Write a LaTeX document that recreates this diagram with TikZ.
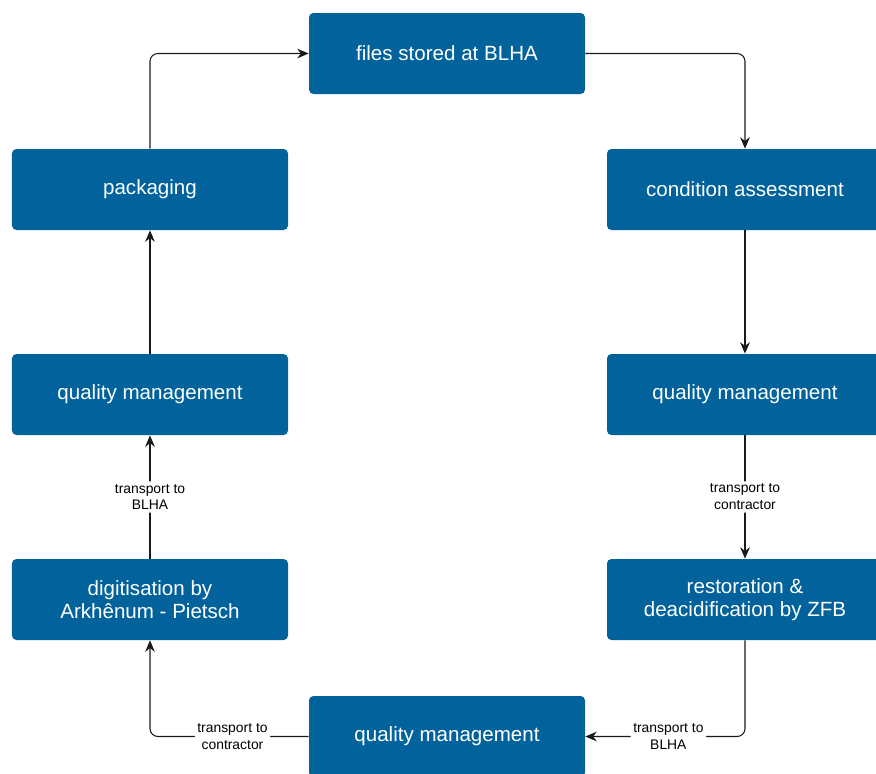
\documentclass[tikz,border=0pt]{standalone}
\usepackage{fontspec}
\setmainfont{Liberation Sans}
\definecolor{boxblue}{HTML}{02629B}
\definecolor{linegray}{HTML}{1A1A1A}
\usetikzlibrary{arrows.meta}

\tikzset{
  stepbox/.style={fill=boxblue, draw=none, rounded corners=2.5pt,
    minimum width=5.52cm, minimum height=1.62cm, align=center,
    text=white, font=\fontsize{11.7}{13}\selectfont},
  flow/.style={draw=linegray, line width=0.6pt, rounded corners=4.5pt,
    -{Stealth[length=6.5pt, width=5.5pt]}},
  lbl/.style={fill=white, inner sep=1.5pt, align=center,
    font=\fontsize{7.9}{9.6}\selectfont}
}

\begin{document}
\begin{tikzpicture}
      \useasboundingbox (0,0) rectangle (17.52,-15.46);
      \clip (0,0) rectangle (17.52,-15.46);

      % Boxes
      \node[stepbox] (store) at (8.94,-1.07) {files stored at BLHA};
      \node[stepbox] (pack) at (3.0,-3.79) {packaging};
      \node[stepbox] (cond) at (14.9,-3.79) {condition assessment};
      \node[stepbox] (qmleft) at (3.0,-7.89) {quality management};
      \node[stepbox] (qmright) at (14.9,-7.89) {quality management};
      \node[stepbox] (digit) at (3.0,-11.99) {digitisation by\\Arkhênum - Pietsch};
      \node[stepbox] (resto) at (14.9,-11.99) {restoration \&\\deacidification by ZFB};
      \node[stepbox] (qmbottom) at (8.94,-14.73) {quality management};

      % Connectors
      \draw[flow] (pack.north) |- (store.west);
      \draw[flow] (store.east) -| (cond.north);
      \draw[flow] (cond) -- (qmright);
      \draw[flow] (qmright) -- node[lbl] {transport to\\contractor} (resto);
      \draw[flow] (resto.south) |- node[lbl, pos=0.74] {transport to\\BLHA} (qmbottom.east);
      \draw[flow] (qmbottom.west) -| node[lbl, pos=0.24] {transport to\\contractor} (digit.south);
      \draw[flow] (digit) -- node[lbl] {transport to\\BLHA} (qmleft);
      \draw[flow] (qmleft) -- (pack);
\end{tikzpicture}
\end{document}
